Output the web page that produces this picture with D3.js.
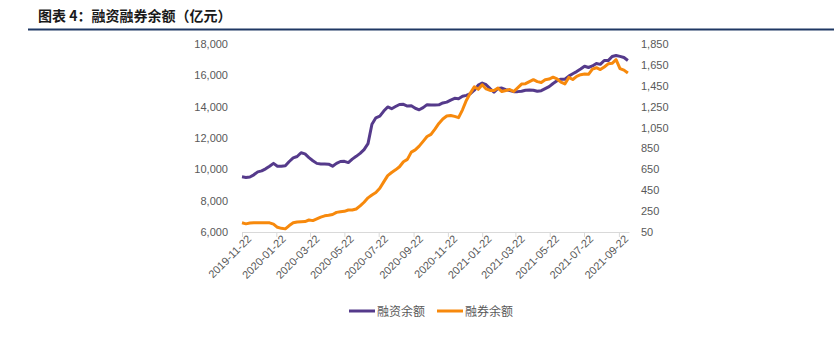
<!DOCTYPE html>
<html>
  <head>
    <meta charset="utf-8" />
    <title>融资融券余额</title>
    <script src="https://d3js.org/d3.v7.min.js"></script>
    <style>
      body {
        margin: 0;
        background: #fff;
      }
      svg {
        font-family: "Liberation Sans", Arial, sans-serif;
      }
      .axis text {
        fill: #595959;
        font-size: 11px;
      }
      .line {
        fill: none;
        stroke-width: 3;
        stroke-linejoin: round;
      }
    </style>
  </head>
  <body>
    <div id="chart"></div>
    <script>
      // weekly data, first week 2019-11-22
      const startDate = "2019-11-22";

      // 融资余额 (left axis, 亿元)
      const marginBalance = [
        9520, 9480, 9510, 9650, 9840, 9900, 10030, 10200, 10380, 10200,
        10200, 10230, 10500, 10730, 10820, 11060, 10990, 10750, 10550, 10380,
        10340, 10340, 10330, 10200, 10380, 10500, 10510, 10430, 10650, 10830,
        11020, 11260, 11640, 12880, 13290, 13400, 13720, 13980, 13870, 14010,
        14140, 14150, 14040, 14060, 13900, 13800, 13940, 14130, 14110, 14100,
        14120, 14240, 14290, 14420, 14530, 14500, 14660, 14720, 14830, 15050,
        15380, 15510, 15400, 15150, 14920, 15160, 15190, 15090, 15030, 14960,
        14960, 14980, 15050, 15060, 15050, 14980, 15020, 15150, 15280, 15480,
        15650, 15750, 15750, 15950, 16100, 16240, 16400, 16580, 16500, 16600,
        16760, 16700, 16950, 16940, 17200, 17270, 17210, 17140, 16950
      ];

      // 融券余额 (right axis, 亿元)
      const shortBalance = [
        138, 128, 136, 139, 139, 139, 139, 138, 126, 95,
        85, 80, 112, 138, 146, 149, 150, 165, 159, 176,
        193, 205, 210, 218, 238, 244, 248, 261, 261, 270,
        300, 335, 377, 405, 428, 468, 530, 590, 620, 645,
        675, 723, 745, 815, 836, 872, 918, 964, 985, 1036,
        1090, 1132, 1160, 1166, 1157, 1145, 1220, 1312, 1380, 1440,
        1416, 1460, 1420, 1405, 1405, 1428, 1395, 1405, 1414, 1395,
        1430, 1466, 1470, 1490, 1508, 1490, 1482, 1508, 1514, 1532,
        1515, 1485, 1468, 1530, 1510, 1540, 1556, 1562, 1560, 1610,
        1623, 1605, 1630, 1660, 1665, 1700, 1615, 1600, 1572
      ];

      const xTickLabels = [
        "2019-11-22", "2020-01-22", "2020-03-22", "2020-05-22",
        "2020-07-22", "2020-09-22", "2020-11-22", "2021-01-22",
        "2021-03-22", "2021-05-22", "2021-07-22", "2021-09-22"
      ];
      const leftTicks = [6000, 8000, 10000, 12000, 14000, 16000, 18000];
      const rightTicks = [50, 250, 450, 650, 850, 1050, 1250, 1450, 1650, 1850];

      const seriesNames = ["融资余额", "融券余额"];
      const colors = ["#553a8b", "#f7890c"];

      const width = 834;
      const height = 351;
      const plot = { left: 242, right: 629, top: 44, bottom: 232 };

      const parse = d3.timeParse("%Y-%m-%d");
      const start = parse(startDate);
      const dates = marginBalance.map((d, i) => d3.timeDay.offset(start, 7 * i));

      const svg = d3
        .select("#chart")
        .append("svg")
        .attr("width", width)
        .attr("height", height);

      // title + rule
      svg
        .append("text")
        .attr("x", 38)
        .attr("y", 21)
        .attr("font-family", "'Noto Sans CJK SC', sans-serif")
        .attr("font-size", "14px")
        .attr("font-weight", "bold")
        .attr("fill", "#1a1a1a")
        .text("图表 4：融资融券余额（亿元）");

      svg
        .append("line")
        .attr("x1", 28)
        .attr("x2", width)
        .attr("y1", 29.5)
        .attr("y2", 29.5)
        .attr("stroke", "#1f3864")
        .attr("stroke-width", 2);

      //scales
      const x = d3
        .scaleTime()
        .domain([start, parse("2021-10-10")])
        .range([plot.left, plot.right]);
      const yLeft = d3
        .scaleLinear()
        .domain([6000, 18000])
        .range([plot.bottom, plot.top]);
      const yRight = d3
        .scaleLinear()
        .domain([50, 1850])
        .range([plot.bottom, plot.top]);

      // left axis (labels only)
      const gl = svg
        .append("g")
        .attr("class", "axis")
        .attr("transform", `translate(${plot.left - 8},0)`)
        .call(
          d3.axisLeft(yLeft).tickValues(leftTicks).tickSize(0).tickPadding(6).tickFormat(d3.format(","))
        );
      gl.select(".domain").remove();

      const gr = svg
        .append("g")
        .attr("class", "axis")
        .attr("transform", `translate(${plot.right + 6},0)`)
        .call(
          d3.axisRight(yRight).tickValues(rightTicks).tickSize(0).tickPadding(6).tickFormat(d3.format(","))
        );
      gr.select(".domain").remove();

      // x axis
      const gx = svg
        .append("g")
        .attr("class", "axis")
        .attr("transform", `translate(0,${plot.bottom})`)
        .call(
          d3
            .axisBottom(x)
            .tickValues(xTickLabels.map(parse))
            .tickSize(5)
            .tickSizeOuter(0)
            .tickFormat(d3.timeFormat("%Y-%m-%d"))
        );
      gx.select(".domain").attr("stroke", "#d9d9d9");
      gx.selectAll(".tick line").attr("stroke", "#d9d9d9");
      gx.selectAll(".tick text")
        .attr("text-anchor", "end")
        .attr("dy", 0)
        .attr("transform", "translate(4,2) rotate(-45)");

      // lines
      const lineLeft = d3
        .line()
        .x((d, i) => x(dates[i]))
        .y((d) => yLeft(d));
      const lineRight = d3
        .line()
        .x((d, i) => x(dates[i]))
        .y((d) => yRight(d));

      svg
        .append("path")
        .datum(marginBalance)
        .attr("class", "line")
        .attr("stroke", colors[0])
        .attr("d", lineLeft);

      svg
        .append("path")
        .datum(shortBalance)
        .attr("class", "line")
        .attr("stroke", colors[1])
        .attr("d", lineRight);

      // legend
      const legend = svg
        .append("g")
        .selectAll("g")
        .data(seriesNames)
        .join("g")
        .attr("transform", (d, i) => `translate(${349 + i * 88},311)`);
      legend
        .append("line")
        .attr("x1", 0)
        .attr("x2", 26)
        .attr("stroke", (d, i) => colors[i])
        .attr("stroke-width", 3);
      legend
        .append("text")
        .attr("x", 28)
        .attr("y", 4.5)
        .attr("font-family", "'Noto Sans CJK SC', sans-serif")
        .attr("font-size", "12px")
        .attr("fill", "#595959")
        .text((d) => d);
    </script>
  </body>
</html>
